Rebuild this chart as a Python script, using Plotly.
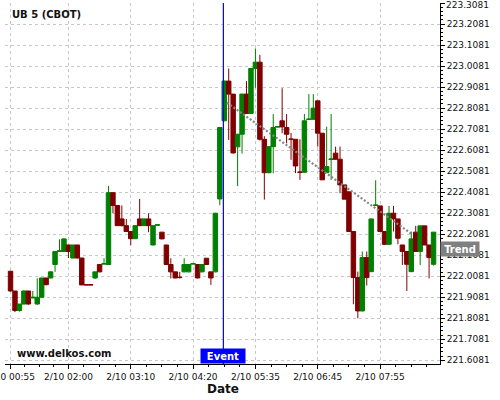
import plotly.graph_objects as go

# ---- data ----
open_ = [222.032, 221.938, 221.845, 221.876, 221.938, 221.905, 221.876, 221.908, 222.000, 222.000,
         222.064, 222.126, 222.126, 222.157, 222.095, 222.157, 222.095, 221.968, 221.968, 222.000,
         222.064, 222.066, 222.064, 222.406, 222.345, 222.281, 222.249, 222.221, 222.187, 222.281,
         222.249, 222.281, 222.157, 222.251, 222.218, 222.157, 222.064, 222.029, 222.004, 222.029,
         222.029, 222.066, 222.064, 222.029, 222.094, 222.029, 222.029, 222.376, 222.748, 222.937,
         222.875, 222.624, 222.684, 222.875, 222.783, 222.997, 223.027, 222.660, 222.501, 222.625,
         222.718, 222.748, 222.716, 222.661, 222.660, 222.504, 222.503, 222.754, 222.755, 222.843,
         222.689, 222.501, 222.564, 222.594, 222.565, 222.443, 222.410, 222.221, 222.002, 221.843,
         222.097, 222.030, 222.345, 222.343, 222.221, 222.160, 222.308, 222.281, 222.157, 222.126,
         222.030, 222.218, 222.126, 222.248, 222.157, 222.065]
high = [222.034, 221.938, 221.876, 221.940, 221.938, 221.938, 221.998, 222.000, 222.000, 222.032,
        222.128, 222.184, 222.188, 222.157, 222.157, 222.157, 222.095, 221.968, 221.968, 222.029,
        222.064, 222.094, 222.438, 222.406, 222.345, 222.345, 222.281, 222.221, 222.251, 222.376,
        222.283, 222.308, 222.251, 222.254, 222.218, 222.157, 222.094, 222.029, 222.029, 222.094,
        222.064, 222.068, 222.064, 222.064, 222.094, 222.029, 222.310, 222.718, 222.939, 222.997,
        222.875, 222.686, 222.877, 222.937, 222.999, 223.092, 223.062, 222.675, 222.626, 222.780,
        222.722, 222.903, 222.780, 222.690, 222.660, 222.660, 222.780, 222.875, 222.875, 222.843,
        222.689, 222.720, 222.780, 222.625, 222.625, 222.443, 222.410, 222.221, 222.030, 222.126,
        222.126, 222.281, 222.465, 222.343, 222.221, 222.343, 222.343, 222.281, 222.157, 222.126,
        222.221, 222.248, 222.248, 222.248, 222.157, 222.218]
low = [221.935, 221.838, 221.840, 221.874, 221.872, 221.903, 221.872, 221.905, 221.965, 221.998,
       222.029, 222.124, 222.124, 222.095, 222.093, 222.093, 221.965, 221.967, 221.967, 221.995,
       222.027, 222.066, 222.062, 222.308, 222.247, 222.245, 222.219, 222.156, 222.185, 222.247,
       222.247, 222.218, 222.155, 222.250, 222.184, 222.062, 221.997, 221.998, 221.997, 222.027,
       222.027, 222.066, 221.998, 222.027, 222.062, 221.967, 222.027, 222.346, 222.746, 222.656,
       222.592, 222.437, 222.592, 222.781, 222.781, 222.905, 222.654, 222.373, 222.498, 222.498,
       222.716, 222.689, 222.641, 222.562, 222.499, 222.467, 222.501, 222.753, 222.753, 222.625,
       222.467, 222.499, 222.467, 222.562, 222.403, 222.375, 222.221, 221.875, 221.808, 221.841,
       221.964, 222.028, 222.344, 222.221, 222.158, 222.158, 222.221, 222.160, 222.062, 221.938,
       222.028, 222.126, 222.062, 222.157, 221.998, 222.059]
close = [221.938, 221.845, 221.876, 221.938, 221.876, 221.908, 221.908, 222.000, 221.968, 222.029,
         222.126, 222.129, 222.186, 222.126, 222.157, 222.095, 221.967, 221.967, 221.967, 222.029,
         222.029, 222.068, 222.406, 222.345, 222.249, 222.249, 222.221, 222.187, 222.249, 222.249,
         222.281, 222.249, 222.249, 222.253, 222.186, 222.064, 222.029, 222.000, 222.002, 222.064,
         222.064, 222.068, 222.000, 222.064, 222.064, 222.000, 222.308, 222.716, 222.937, 222.875,
         222.595, 222.684, 222.875, 222.783, 222.997, 223.027, 222.660, 222.501, 222.625, 222.716,
         222.720, 222.719, 222.684, 222.660, 222.533, 222.503, 222.748, 222.756, 222.808, 222.689,
         222.467, 222.530, 222.566, 222.565, 222.443, 222.375, 222.221, 222.002, 221.843, 222.097,
         222.002, 222.281, 222.347, 222.221, 222.160, 222.308, 222.281, 222.189, 222.126, 222.065,
         222.186, 222.126, 222.248, 222.157, 222.097, 222.218]

tick_index = [0, 13, 27, 41, 55, 69, 83]
tick_labels = ["2/10 00:55", "2/10 02:00", "2/10 03:10", "2/10 04:20",
               "2/10 05:35", "2/10 06:45", "2/10 07:55"]
minor_index = [3.25, 6.5, 9.75, 16.5, 20, 23.5, 30.5, 34, 37.5, 44.5, 48, 51.5,
               58.5, 62, 65.5, 72.5, 76, 79.5, 86.5, 90, 93.5]

event_index = 47.8
trend_index = [48.6, 90.0]
trend_price = [222.834, 222.211]
trend_label_price = 222.137

y_ticks = [221.6081 + 0.1 * i for i in range(18)]
y_range = [221.5905, 223.3086]
x_range = [-1.24, 96.45]

GREEN = "#008000"
RED = "#800000"
FONT = "DejaVu Sans"
TEXT = "#111111"

x = list(range(len(open_)))

fig = go.Figure()
fig.add_trace(go.Candlestick(
    x=x, open=open_, high=high, low=low, close=close,
    increasing=dict(line=dict(color=GREEN, width=1), fillcolor=GREEN),
    decreasing=dict(line=dict(color=RED, width=1), fillcolor=RED),
    whiskerwidth=0, showlegend=False,
))
fig.add_trace(go.Scatter(
    x=trend_index, y=trend_price, mode="lines",
    line=dict(color="#858585", width=2.2, dash="2px,2px"),
    showlegend=False, hoverinfo="skip",
))

fig.add_shape(type="line", xref="x", yref="paper", x0=event_index, x1=event_index,
              y0=0, y1=1, line=dict(color="#0000ff", width=1.2))

fig.add_annotation(x=event_index, xref="x", y=0, yref="paper", yanchor="bottom",
                   text="<b>Event</b>", showarrow=False, bgcolor="#0000ff",
                   width=44, height=14, borderpad=0,
                   font=dict(family=FONT, size=10, color="white"))
fig.add_annotation(x=1, xref="paper", y=trend_label_price, yref="y", xanchor="left",
                   text="<b>Trend</b>", showarrow=False, bgcolor="#808080",
                   width=38, height=14, borderpad=0,
                   font=dict(family=FONT, size=10, color="white"))
fig.add_annotation(x=0.0115, xref="paper", y=0.967, yref="paper", xanchor="left",
                   yanchor="middle", text="<b>UB 5 (CBOT)</b>", showarrow=False,
                   font=dict(family=FONT, size=10, color=TEXT))
fig.add_annotation(x=0.023, xref="paper", y=0.028, yref="paper", xanchor="left",
                   yanchor="middle", text="<b>www.delkos.com</b>", showarrow=False,
                   font=dict(family=FONT, size=10, color=TEXT))
fig.add_annotation(x=0.5, xref="paper", y=-0.069, yref="paper", xanchor="center",
                   yanchor="middle", text="<b>Date</b>", showarrow=False,
                   font=dict(family=FONT, size=12, color=TEXT))

# top price label is pushed down so it stays inside the picture, as in the reference
y_text = [f"{v:.4f}" for v in y_ticks]
fig.add_annotation(x=1, xref="paper", y=y_ticks[-1], yref="y", xanchor="left",
                   yanchor="middle", xshift=4, yshift=-2, text=y_text[-1], showarrow=False,
                   font=dict(family=FONT, size=9, color=TEXT))
y_text[-1] = ""

fig.update_layout(
    template="none",
    width=500, height=400,
    margin=dict(l=5, r=60, t=3, b=36, autoexpand=False),
    paper_bgcolor="white", plot_bgcolor="white",
    font=dict(family=FONT, size=9, color=TEXT),
    showlegend=False,
    boxgap=0, boxgroupgap=0,
)
fig.update_xaxes(
    automargin=False,
    range=x_range, rangeslider=dict(visible=False),
    tickmode="array", tickvals=tick_index, ticktext=tick_labels,
    ticklabeloverflow="allow",
    showgrid=True, gridcolor="#c8c8c8", griddash="3px,3px", gridwidth=1,
    showline=True, linecolor="black", linewidth=1,
    ticks="outside", ticklen=4, tickcolor="black",
    tickfont=dict(family=FONT, size=9, color=TEXT),
    minor=dict(tickmode="array", tickvals=minor_index, ticks="outside", ticklen=2,
               tickcolor="black", showgrid=False),
    zeroline=False,
)
fig.update_yaxes(
    automargin=False,
    side="right", range=y_range,
    tickmode="array", tickvals=y_ticks, ticktext=y_text,
    ticklabeloverflow="allow",
    showgrid=True, gridcolor="#c8c8c8", griddash="3px,3px", gridwidth=1,
    showline=True, linecolor="black", linewidth=1,
    ticks="outside", ticklen=4, tickcolor="black",
    tickfont=dict(family=FONT, size=9, color=TEXT),
    minor=dict(dtick=0.02, tick0=221.6081, ticks="outside", ticklen=2,
               tickcolor="black", showgrid=False),
    zeroline=False,
)

fig.write_html("out.html", config={"displayModeBar": False},
               post_script="document.body.style.margin='0';document.body.style.padding='0';")
